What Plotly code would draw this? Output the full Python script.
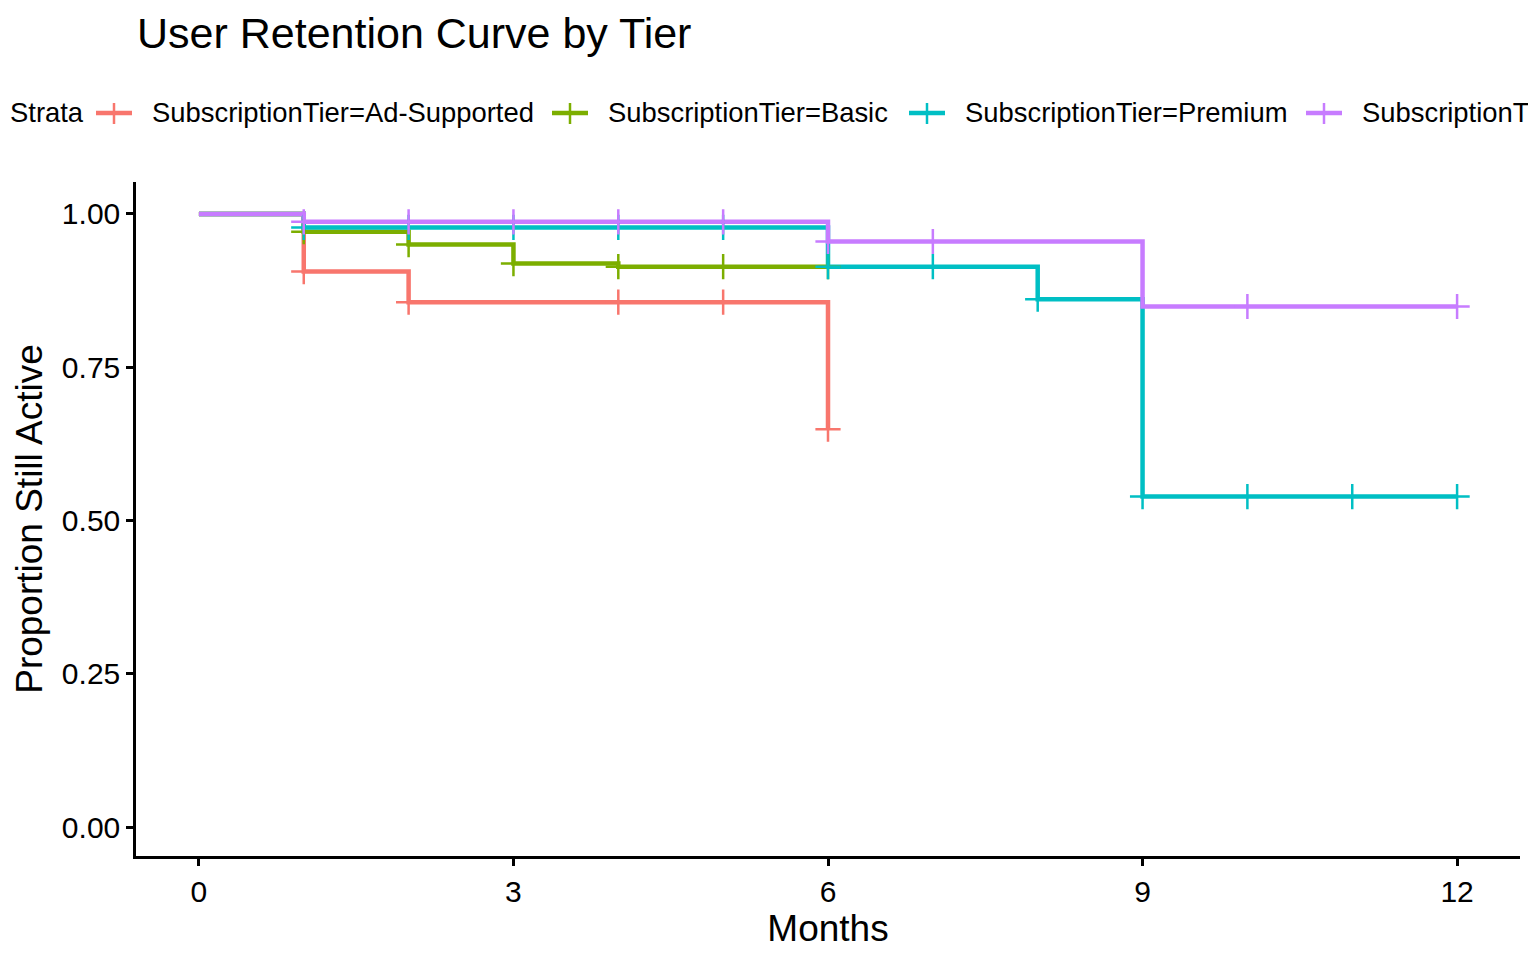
import plotly.graph_objects as go

# Kaplan-Meier style step data
tiers = ['Ad-Supported', 'Basic', 'Premium', 'Standard']
colors = ['#F8766D', '#7CAE00', '#00BFC4', '#C77CFF']

# step times and survival right after each step
ad_t = [0, 1, 2, 6]
ad_s = [1.0, 0.906, 0.856, 0.649]
basic_t = [0, 1, 2, 3, 4, 6]
basic_s = [1.0, 0.971, 0.950, 0.919, 0.914, 0.914]
premium_t = [0, 1, 6, 8, 9, 12]
premium_s = [1.0, 0.978, 0.914, 0.861, 0.539, 0.539]
standard_t = [0, 1, 6, 9, 12]
standard_s = [1.0, 0.987, 0.955, 0.849, 0.849]

# censor marks
ad_ct = [1, 2, 4, 5, 6]
ad_cs = [0.906, 0.856, 0.856, 0.856, 0.649]
basic_ct = [1, 2, 3, 4, 5, 6]
basic_cs = [0.971, 0.950, 0.919, 0.914, 0.914, 0.914]
premium_ct = [1, 2, 3, 4, 5, 6, 7, 8, 9, 10, 11, 12]
premium_cs = [0.978, 0.978, 0.978, 0.978, 0.978, 0.914, 0.914, 0.861, 0.539, 0.539, 0.539, 0.539]
standard_ct = [1, 2, 3, 4, 5, 6, 7, 10, 12]
standard_cs = [0.987, 0.987, 0.987, 0.987, 0.987, 0.955, 0.955, 0.849, 0.849]

x_ticks = [0, 3, 6, 9, 12]
y_ticks = [0, 0.25, 0.5, 0.75, 1.0]
y_ticklabels = ['0.00', '0.25', '0.50', '0.75', '1.00']

steps = [(ad_t, ad_s), (basic_t, basic_s), (premium_t, premium_s), (standard_t, standard_s)]
censors = [(ad_ct, ad_cs), (basic_ct, basic_cs), (premium_ct, premium_cs), (standard_ct, standard_cs)]

FONT = 'Liberation Sans, Arial, sans-serif'
W, H = 1536, 960
OFF = 8  # the page body margin shifts the plot by 8px
L, R, T, B = 136 - OFF, 1520 - OFF, 182 - OFF, 856 - OFF


def px(x):
    return (x - OFF - L) / (R - L)


def py(y):
    return (B - (y - OFF)) / (B - T)


fig = go.Figure()
for (t, s), name, c in zip(steps, tiers, colors):
    fig.add_trace(go.Scatter(x=t, y=s, mode='lines', line=dict(color=c, width=4.5, shape='hv'),
                             name='SubscriptionTier=' + name, showlegend=False))
for (t, s), name, c in zip(censors, tiers, colors):
    fig.add_trace(go.Scatter(x=t, y=s, mode='markers', showlegend=False,
                             marker=dict(symbol='cross-thin', size=18, color=c,
                                         line=dict(color=c, width=2.5))))

# hand drawn legend (ggplot legend runs past the page edges)
shapes = []
annotations = [dict(text='Strata', x=px(OFF), y=py(113), xref='paper', yref='paper',
                    xanchor='left', yanchor='middle', showarrow=False,
                    font=dict(size=27.4, color='black', family=FONT))]
key_x = [96, 552, 909, 1306]
for kx, name, c in zip(key_x, tiers, colors):
    shapes.append(dict(type='line', xref='paper', yref='paper', x0=px(kx), x1=px(kx + 36),
                       y0=py(113), y1=py(113), line=dict(color=c, width=4.5)))
    shapes.append(dict(type='line', xref='paper', yref='paper', x0=px(kx + 18), x1=px(kx + 18),
                       y0=py(103), y1=py(124), line=dict(color=c, width=2.5)))
    annotations.append(dict(text='SubscriptionTier=' + name, x=px(kx + 54), y=py(113),
                            xref='paper', yref='paper', xanchor='left', yanchor='middle',
                            showarrow=False, font=dict(size=27.4, color='black', family=FONT)))

fig.update_layout(
    width=W, height=H,
    margin=dict(l=L, r=W - R, t=T, b=H - B),
    paper_bgcolor='white', plot_bgcolor='white',
    font=dict(family=FONT, color='black'),
    title=dict(text='User Retention Curve by Tier', x=(137 - OFF) / W, xref='container',
               xanchor='left', y=1 - (33 - OFF) / H, yref='container', yanchor='middle',
               font=dict(size=43, color='black', family=FONT)),
    showlegend=False,
    shapes=shapes,
    annotations=annotations,
)
fig.update_xaxes(range=[-0.6, 12.6], tickvals=x_ticks, showgrid=False, zeroline=False,
                 showline=True, linecolor='black', linewidth=2.5, ticks='outside',
                 ticklen=7, tickwidth=2.5, tickcolor='black',
                 tickfont=dict(size=30, color='black'),
                 title=dict(text='Months', font=dict(size=37, color='black'), standoff=7))
fig.update_yaxes(range=[-0.047, 1.052], tickvals=y_ticks, ticktext=y_ticklabels,
                 showgrid=False, zeroline=False,
                 showline=True, linecolor='black', linewidth=2.5, ticks='outside',
                 ticklen=7, tickwidth=2.5, tickcolor='black',
                 tickfont=dict(size=30, color='black'),
                 title=dict(text='Proportion Still Active', font=dict(size=37, color='black'),
                            standoff=8))

fig.write_html('out.html')
